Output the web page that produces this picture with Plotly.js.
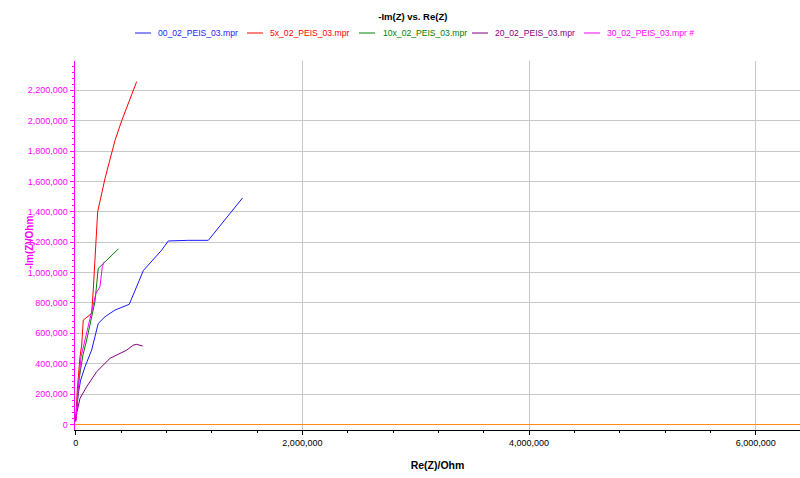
<!DOCTYPE html>
<html>
<head>
<meta charset="utf-8">
<script src="https://cdn.plot.ly/plotly-3.0.1.min.js"></script>
<style>html,body{margin:0;padding:0;background:#fff;}#chart{width:800px;height:478px;}</style>
</head>
<body>
<div id="chart"></div>
<script>
// ---- data ----
const seriesNames = ["00_02_PEIS_03.mpr", "5x_02_PEIS_03.mpr", "10x_02_PEIS_03.mpr", "20_02_PEIS_03.mpr", "30_02_PEIS_03.mpr #"];
const seriesColors = ["#1a1aff", "#ff0000", "#008000", "#800080", "#ff00ff"];

const blueX = [0, 23e3, 44e3, 82e3, 141e3, 199e3, 259e3, 347e3, 473e3, 523e3, 597e3, 759e3, 817e3, 994e3, 1170e3, 1472e3];
const blueY = [28e3, 204e3, 292e3, 379e3, 490e3, 665e3, 709e3, 753e3, 791e3, 885e3, 1013e3, 1148e3, 1208e3, 1212e3, 1212e3, 1491e3];

const redX = [0, 5e3, 14e3, 38e3, 53e3, 67e3, 141e3, 155e3, 179e3, 194e3, 259e3, 347e3, 406e3, 538e3];
const redY = [17e3, 130e3, 226e3, 445e3, 522e3, 687e3, 731e3, 885e3, 1214e3, 1400e3, 1620e3, 1870e3, 2000e3, 2257e3];

const greenX = [0, 9e3, 29e3, 64e3, 97e3, 141e3, 170e3, 199e3, 214e3, 376e3];
const greenY = [40e3, 95e3, 292e3, 457e3, 556e3, 700e3, 808e3, 1028e3, 1038e3, 1155e3];

const purpleX = [0, 11e3, 38e3, 97e3, 185e3, 303e3, 450e3, 508e3, 538e3, 591e3];
const purpleY = [22e3, 81e3, 171e3, 248e3, 347e3, 435e3, 489e3, 522e3, 527e3, 516e3];

const magentaX = [3e3, 9e3, 47e3, 111e3, 179e3, 214e3, 235e3, 252e3];
const magentaY = [28e3, 116e3, 445e3, 643e3, 863e3, 906e3, 1038e3, 1071e3];

const xsAll = [blueX, redX, greenX, purpleX, magentaX];
const ysAll = [blueY, redY, greenY, purpleY, magentaY];

// ---- traces ----
const traces = xsAll.map((xs, i) => ({
  x: xs, y: ysAll[i], type: 'scatter', mode: 'lines', name: seriesNames[i],
  line: {color: seriesColors[i], width: 1}, showlegend: false, hoverinfo: 'skip'
}));

// ---- custom legend (pixel layout converted to paper coords) ----
const L = 75, R = 800, T = 61, B = 430;
const px2x = p => (p - L) / (R - L);
const px2y = p => (B - p) / (B - T);
const legLineX = [135, 247, 359, 472, 584];
const legTextX = [156, 268, 381, 493, 605];
const legY = 33;
const shapes = [];
const annotations = [];
seriesNames.forEach((n, i) => {
  shapes.push({type: 'line', xref: 'paper', yref: 'paper',
    x0: px2x(legLineX[i]), x1: px2x(legLineX[i] + 16), y0: px2y(legY), y1: px2y(legY),
    line: {color: seriesColors[i], width: 1}});
  annotations.push({xref: 'paper', yref: 'paper', x: px2x(legTextX[i]), y: px2y(legY),
    xanchor: 'left', yanchor: 'middle', showarrow: false, text: n,
    font: {family: 'Liberation Sans, Arial, sans-serif', size: 8.6, color: seriesColors[i]}});
});
// y-axis title
annotations.push({xref: 'paper', yref: 'paper', x: px2x(29), y: px2y(243), xanchor: 'center', yanchor: 'middle',
  showarrow: false, textangle: -90, text: '<b>-Im(Z)/Ohm</b>',
  font: {family: 'Liberation Sans, Arial, sans-serif', size: 10, color: '#ff00ff'}});

const layout = {
  width: 800, height: 478,
  margin: {l: L, r: 800 - R, t: T, b: 478 - B},
  paper_bgcolor: '#ffffff', plot_bgcolor: '#ffffff',
  font: {family: 'Liberation Sans, Arial, sans-serif', size: 9, color: '#000'},
  title: {text: '<b>-Im(Z) vs. Re(Z)</b>', x: 0.516, xref: 'container', xanchor: 'center',
    y: 1 - 17 / 478, yref: 'container', yanchor: 'middle',
    font: {family: 'Liberation Sans, Arial, sans-serif', size: 9.5, color: '#000'}},
  xaxis: {
    range: [-6000, 6.39e6], dtick: 2e6, tick0: 0, tickformat: ',d',
    showgrid: true, gridcolor: '#c8c8c8', gridwidth: 1,
    zeroline: true, zerolinecolor: '#ff8c1a', zerolinewidth: 1.5,
    showline: true, linecolor: '#000', linewidth: 1,
    ticks: 'outside', ticklen: 4, tickcolor: '#000',
    minor: {dtick: 4e5, ticks: 'outside', ticklen: 2, tickcolor: '#000', showgrid: false},
    tickfont: {size: 9, color: '#000'},
    title: {text: '<b>Re(Z)/Ohm</b>', standoff: 14, font: {size: 10.5, color: '#000'}}
  },
  yaxis: {
    range: [-37e3, 2.393e6], dtick: 2e5, tick0: 0, tickformat: ',d',
    showgrid: true, gridcolor: '#c8c8c8', gridwidth: 1,
    zeroline: true, zerolinecolor: '#ff8c1a', zerolinewidth: 1.5,
    showline: true, linecolor: '#ff00ff', linewidth: 1.5,
    ticks: 'outside', ticklen: 4, tickcolor: '#ff00ff',
    minor: {dtick: 4e4, ticks: 'outside', ticklen: 2, tickcolor: '#ff00ff', showgrid: false},
    tickfont: {size: 9, color: '#ff00ff'}
  },
  shapes: shapes,
  annotations: annotations
};

Plotly.newPlot('chart', traces, layout, {displayModeBar: false, staticPlot: true});
</script>
</body>
</html>
